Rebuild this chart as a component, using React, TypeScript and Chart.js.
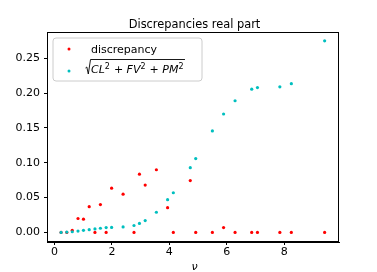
import React, { useEffect, useRef } from "react";
import { Chart, registerables } from "chart.js";

Chart.register(...registerables);

const TITLE = "Discrepancies real part";
const X_LABEL = "ν";
const SERIES_NAMES = ["discrepancy", "sqrt"];

const nu = [
  0.23, 0.43, 0.62, 0.82, 1.01, 1.21, 1.41, 1.6, 1.8, 1.99, 2.39, 2.77, 2.96, 3.16,
  3.55, 3.94, 4.14, 4.73, 4.92, 5.5, 5.89, 6.29, 6.87, 7.07, 7.85, 8.25, 9.41,
];
const discrepancy = [
  0, 0, 0.003, 0.02, 0.019, 0.037, 0, 0.04, 0, 0.0635, 0.055, 0, 0.0837, 0.068,
  0.09, 0.0356, 0, 0.0745, 0, 0, 0.007, 0, 0, 0, 0, 0, 0,
];
const combined = [
  0, 0.0005, 0.001, 0.002, 0.003, 0.004, 0.005, 0.006, 0.007, 0.0072, 0.008, 0.01,
  0.013, 0.017, 0.029, 0.047, 0.057, 0.093, 0.106, 0.1457, 0.17, 0.189, 0.2056,
  0.208, 0.209, 0.2136, 0.275,
];
const xTicks = [0, 2, 4, 6, 8];
const yTicks = [0, 0.05, 0.1, 0.15, 0.2, 0.25];

const RED = "#ff0000";
const CYAN = "#00bfbf";
const FONT = "DejaVu Sans";

const decorPlugin = {
  id: "decor",
  afterDraw(chart: any) {
    const ctx = chart.ctx as CanvasRenderingContext2D;
    const a = chart.chartArea;
    ctx.save();
    // frame
    ctx.strokeStyle = "#000";
    ctx.lineWidth = 1;
    ctx.strokeRect(Math.round(a.left) + 0.5, Math.round(a.top) + 0.5, Math.round(a.right - a.left) - 1, Math.round(a.bottom - a.top) - 1);

    // title
    ctx.fillStyle = "#000";
    ctx.font = `11.4px "${FONT}"`;
    ctx.textAlign = "center";
    ctx.textBaseline = "alphabetic";
    ctx.fillText(TITLE, (a.left + a.right) / 2 + 1.5, 28);

    // x label
    ctx.font = `italic 11px "${FONT}"`;
    ctx.fillText(X_LABEL, (a.left + a.right) / 2 + 1.5, 270);

    // legend box
    const bx = a.left + 6, by = a.top + 6, bw = 149, bh = 43, r = 3;
    ctx.beginPath();
    ctx.moveTo(bx + r, by);
    ctx.lineTo(bx + bw - r, by);
    ctx.arcTo(bx + bw, by, bx + bw, by + r, r);
    ctx.lineTo(bx + bw, by + bh - r);
    ctx.arcTo(bx + bw, by + bh, bx + bw - r, by + bh, r);
    ctx.lineTo(bx + r, by + bh);
    ctx.arcTo(bx, by + bh, bx, by + bh - r, r);
    ctx.lineTo(bx, by + r);
    ctx.arcTo(bx, by, bx + r, by, r);
    ctx.closePath();
    ctx.fillStyle = "rgba(255,255,255,0.8)";
    ctx.fill();
    ctx.strokeStyle = "#cccccc";
    ctx.stroke();

    // markers
    const mx = bx + 16;
    ctx.fillStyle = RED;
    ctx.beginPath();
    ctx.arc(mx, by + 11, 1.5, 0, Math.PI * 2);
    ctx.fill();
    ctx.fillStyle = CYAN;
    ctx.beginPath();
    ctx.arc(mx, by + 33, 1.5, 0, Math.PI * 2);
    ctx.fill();

    // text 1
    ctx.fillStyle = "#000";
    ctx.textAlign = "left";
    ctx.font = `11px "${FONT}"`;
    ctx.fillText(SERIES_NAMES[0], bx + 38, by + 15);

    // math text: sqrt(CL^2 + FV^2 + PM^2)
    const base = by + 35;
    let x = bx + 38;
    const parts: [string, string, number][] = [
      ["CL", "i", 0], ["2", "s", 0], [" + ", "n", 0], ["FV", "i", 0], ["2", "s", 0],
      [" + ", "n", 0], ["PM", "i", 0], ["2", "s", 0],
    ];
    for (const [t, kind] of parts) {
      if (kind === "i") ctx.font = `italic 11px "${FONT}"`;
      else if (kind === "s") ctx.font = `8px "${FONT}"`;
      else ctx.font = `11px "${FONT}"`;
      const dy = kind === "s" ? -4.5 : 0;
      ctx.fillText(t, x, base + dy);
      x += ctx.measureText(t).width + (kind === "s" ? 0.5 : 0);
    }
    const endX = x + 1;
    // radical sign
    ctx.strokeStyle = "#000";
    ctx.lineWidth = 0.9;
    ctx.beginPath();
    ctx.moveTo(bx + 32.5, base - 5);
    ctx.lineTo(bx + 33.8, base - 6);
    ctx.lineTo(bx + 35.3, base + 1);
    ctx.lineTo(bx + 37.5, base - 13.5);
    ctx.lineTo(endX, base - 13.5);
    ctx.stroke();
    ctx.restore();
  },
};

export default function App() {
  const ref = useRef<HTMLCanvasElement>(null);
  useEffect(() => {
    if (!ref.current) return;
    const chart = new Chart(ref.current, {
      type: "scatter",
      data: {
        datasets: [
          {
            label: SERIES_NAMES[0],
            data: nu.map((v, i) => ({ x: v, y: discrepancy[i] })),
            backgroundColor: RED,
            borderWidth: 0,
            pointRadius: 1.6,
            order: 1,
          },
          {
            label: SERIES_NAMES[1],
            data: nu.map((v, i) => ({ x: v, y: combined[i] })),
            backgroundColor: CYAN,
            borderWidth: 0,
            pointRadius: 1.6,
            order: 0,
          },
        ],
      },
      plugins: [decorPlugin],
      options: {
        responsive: false,
        animation: false,
        layout: { padding: { top: 32, right: 38, left: 0, bottom: 0 } },
        plugins: { legend: { display: false }, tooltip: { enabled: false }, title: { display: false } },
        scales: {
          x: {
            type: "linear",
            min: -0.26,
            max: 9.91,
            afterBuildTicks: (s: any) => { s.ticks = xTicks.map((v) => ({ value: v })); },
            afterFit: (s: any) => { s.height = 30; },
            ticks: { color: "#000", font: { family: FONT, size: 11 }, padding: 1, maxRotation: 0, callback: (v: any) => String(v) },
            grid: { drawOnChartArea: false, drawTicks: true, tickLength: 3, color: "#000" },
            border: { display: true, color: "#000" },
          },
          y: {
            type: "linear",
            min: -0.0137,
            max: 0.2877,
            afterBuildTicks: (s: any) => { s.ticks = yTicks.map((v) => ({ value: v })); },
            afterFit: (s: any) => { s.width = 47; },
            ticks: { color: "#000", font: { family: FONT, size: 11 }, padding: 4, callback: (v: any) => Number(v).toFixed(2) },
            grid: { drawOnChartArea: false, drawTicks: true, tickLength: 3, color: "#000" },
            border: { display: true, color: "#000" },
          },
        },
      },
    });
    return () => chart.destroy();
  }, []);
  return (
    <div style={{ position: "fixed", left: 0, top: 0, width: 377, height: 272, background: "#fff" }}>
      <canvas ref={ref} width={377} height={272} />
    </div>
  );
}
